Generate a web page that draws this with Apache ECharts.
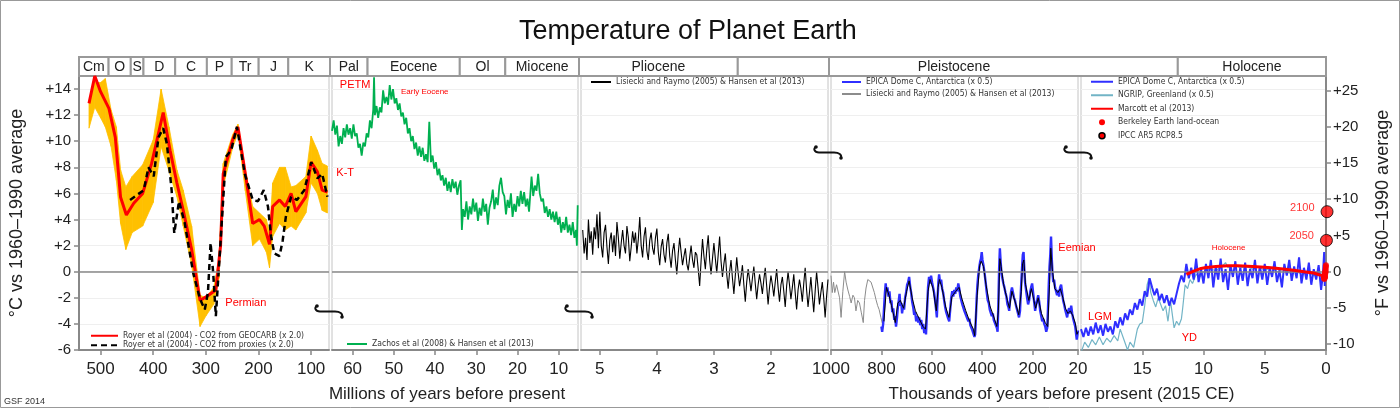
<!DOCTYPE html>
<html>
<head>
<meta charset="utf-8">
<script src="https://cdn.jsdelivr.net/npm/echarts@6/dist/echarts.min.js"></script>
<style>
html, body { margin: 0; padding: 0; background: #fff; }
#chart { width: 1400px; height: 408px; }
</style>
</head>
<body>
<div id="chart"></div>
<script>
// ---- data (age, °C anomaly) ----
// Royer et al (2004), Ma
var geocarb = [[522,12.9],[511,15.0],[500,13.8],[484,12.5],[472,10.3],[462,5.7],[451,4.35],[437,5.25],[420,6.0],[403,8.3],[381,12.2],[368,9.3],[355,6.8],[343,4.7],[327,1.7],[311,-2.2],[295,-1.8],[281,-1.4],[272,2.0],[267,7.5],[249,10.1],[239,11.1],[223,7.0],[211,3.7],[198,4.0],[189,3.5],[179,2.1],[173,5.0],[160,5.5],[149,5.0],[138,6.0],[129,4.6],[110,5.75],[100,8.4],[88,7.65],[79,6.25],[69,6.1]];
var proxies = [[444,5.5],[418,6.25],[409,8.0],[399,7.3],[390,10.3],[381,11.0],[374,9.8],[365,6.25],[360,2.95],[351,5.4],[340,3.7],[324,-0.1],[311,-2.1],[302,-2.9],[296,-1.6],[291,2.2],[286,-0.1],[281,-3.4],[275,0.4],[262,8.8],[252,9.3],[241,11.1],[226,7.5],[211,5.5],[201,5.4],[190,6.25],[182,5.0],[176,2.7],[170,1.4],[160,1.2],[154,2.4],[148,4.2],[138,5.75],[127,5.5],[113,6.25],[99.6,8.4],[88,7.15],[79,7.5],[69,5.75]];
var bandAge  = [522,511,500,491,480,470,462,452,440,420,400,385,370,355,343,327,311,300,285,275,267,249,239,225,211,198,185,179,173,160,149,138,129,110,100,88,79,69];
var bandLow  = [11.0,12.6,11.8,11.1,9.6,7.0,3.7,1.7,3.0,3.5,5.3,9.6,7.7,5.75,3.5,0.5,-4.2,-3.4,-2.5,-0.5,6.5,9.5,10.6,6.2,2.0,2.5,1.5,0.3,2.7,3.7,3.2,3.5,3.2,4.5,6.8,6.0,4.7,4.5];
var bandHigh = [12.9,14.5,14.5,14.8,12.4,11.1,7.8,6.5,7.3,8.2,10.1,14.0,11.1,7.8,6.25,3.5,-1.8,-2.0,-1.2,1.0,8.3,10.5,11.3,7.8,5.0,4.5,4.0,3.0,6.8,8.0,8.0,6.5,6.6,7.3,10.4,9.3,8.3,8.1];

// Zachos et al (2008), Ma
var zachos = [[65.0,10.8],[64.6,11.6],[64.2,10.5],[63.8,11.2],[63.4,9.6],[63.0,10.4],[62.6,9.8],[62.2,11.0],[61.8,10.3],[61.4,11.3],[61.0,10.5],[60.6,11.0],[60.2,10.2],[59.8,11.3],[59.4,10.4],[59.0,10.6],[58.6,9.5],[58.2,9.8],[57.8,8.9],[57.4,9.9],[57.0,9.6],[56.6,10.6],[56.2,10.3],[55.8,11.6],[55.4,11.0],[55.0,12.4],[54.8,14.9],[54.6,12.0],[54.2,12.7],[53.8,11.8],[53.4,12.6],[53.0,12.2],[52.6,13.9],[52.2,12.9],[51.8,13.4],[51.4,12.8],[51.0,14.3],[50.6,13.2],[50.2,14.0],[49.8,12.9],[49.4,13.3],[49.0,12.4],[48.6,12.9],[48.2,11.9],[47.8,12.2],[47.4,11.3],[47.0,11.8],[46.6,10.6],[46.2,11.0],[45.8,10.0],[45.4,10.4],[45.0,9.4],[44.6,9.9],[44.2,8.9],[43.8,9.6],[43.4,8.8],[43.0,9.5],[42.6,8.5],[42.2,9.0],[41.8,8.4],[41.4,11.5],[41.0,8.4],[40.6,8.9],[40.2,7.9],[39.8,8.4],[39.4,7.4],[39.0,7.9],[38.6,7.0],[38.2,7.4],[37.8,6.6],[37.4,7.2],[37.0,6.2],[36.6,6.9],[36.2,6.1],[35.8,7.1],[35.4,6.4],[35.0,6.9],[34.6,5.9],[34.2,6.6],[33.8,7.0],[33.5,3.2],[33.2,4.8],[32.8,4.2],[32.4,5.4],[32.0,4.0],[31.6,5.0],[31.2,4.4],[30.8,5.6],[30.4,4.6],[30.0,5.3],[29.6,3.9],[29.2,4.9],[28.8,4.3],[28.4,5.6],[28.0,4.6],[27.6,5.2],[27.2,3.6],[26.8,4.9],[26.4,5.4],[26.0,6.3],[25.6,4.8],[25.2,5.7],[24.8,5.1],[24.4,6.6],[24.0,7.2],[23.6,6.1],[23.2,5.8],[22.8,4.4],[22.4,5.5],[22.0,4.9],[21.6,6.0],[21.2,4.2],[20.8,5.2],[20.4,4.6],[20.0,5.8],[19.6,5.0],[19.2,6.2],[18.8,5.2],[18.4,6.1],[18.0,5.0],[17.6,5.6],[17.2,4.6],[16.8,6.4],[16.6,7.3],[16.2,5.8],[15.8,6.6],[15.4,6.2],[15.0,7.5],[14.6,6.0],[14.2,5.4],[13.8,5.6],[13.4,4.5],[13.0,5.0],[12.6,4.2],[12.2,4.8],[11.8,4.0],[11.4,4.6],[11.0,3.8],[10.6,4.6],[10.2,3.6],[9.8,4.2],[9.4,3.0],[9.0,3.8],[8.6,3.2],[8.2,4.2],[7.8,3.0],[7.4,3.6],[7.0,2.8],[6.6,3.8],[6.2,2.6],[5.8,3.2],[5.6,2.0],[5.4,5.1]];

// Lisiecki and Raymo (2005), Ma
var lisiecki = [[5.300,3.2],[5.275,1.4],[5.250,2.6],[5.225,0.9],[5.200,4.0],[5.175,2.2],[5.150,3.1],[5.125,1.3],[5.100,3.4],[5.075,2.5],[5.050,4.4],[5.025,1.8],[5.000,4.6],[4.975,2.0],[4.950,1.1],[4.925,3.0],[4.900,3.6],[4.875,1.9],[4.850,0.6],[4.825,2.4],[4.800,3.0],[4.775,1.5],[4.750,2.8],[4.725,1.2],[4.700,3.8],[4.675,2.6],[4.650,1.0],[4.625,2.2],[4.600,3.2],[4.575,2.0],[4.550,1.4],[4.525,3.5],[4.500,2.6],[4.475,0.8],[4.450,1.9],[4.425,3.1],[4.400,2.2],[4.375,3.0],[4.350,1.4],[4.325,2.5],[4.300,4.2],[4.275,2.0],[4.250,1.1],[4.225,2.7],[4.200,3.4],[4.175,1.6],[4.150,0.9],[4.125,2.4],[4.100,3.0],[4.075,1.8],[4.050,1.3],[4.025,2.6],[4.000,3.3],[3.975,1.5],[3.950,0.5],[3.925,1.9],[3.900,2.5],[3.875,1.3],[3.850,0.7],[3.825,2.2],[3.800,2.9],[3.775,1.2],[3.750,0.3],[3.725,1.6],[3.700,2.2],[3.675,0.9],[3.650,-0.2],[3.625,1.4],[3.600,2.6],[3.575,1.5],[3.550,0.5],[3.525,1.2],[3.500,1.8],[3.475,0.6],[3.450,0.1],[3.425,1.1],[3.400,2.0],[3.375,0.9],[3.350,0.3],[3.325,1.5],[3.300,1.3],[3.275,0.2],[3.250,-1.1],[3.225,0.8],[3.200,2.5],[3.175,1.2],[3.150,0.2],[3.125,1.7],[3.100,2.8],[3.075,0.9],[3.050,-0.2],[3.025,1.0],[3.000,2.2],[2.975,1.0],[2.950,-0.1],[2.925,1.3],[2.900,2.7],[2.875,0.8],[2.850,-0.4],[2.825,0.6],[2.800,1.4],[2.775,-0.2],[2.750,-1.3],[2.725,0.0],[2.700,0.9],[2.675,-0.5],[2.650,-1.7],[2.625,-0.3],[2.600,1.1],[2.575,-0.1],[2.550,-1.1],[2.525,-0.4],[2.500,0.5],[2.475,-1.0],[2.450,-2.3],[2.425,-0.8],[2.400,0.2],[2.375,-0.6],[2.350,-1.5],[2.325,-0.5],[2.300,0.4],[2.275,-0.9],[2.250,-2.1],[2.225,-1.0],[2.200,-0.2],[2.175,-0.9],[2.150,-1.7],[2.125,-0.6],[2.100,0.3],[2.075,-1.1],[2.050,-2.5],[2.025,-1.2],[2.000,-0.3],[1.975,-1.0],[1.950,-1.9],[1.925,-0.8],[1.900,0.2],[1.875,-1.2],[1.850,-2.3],[1.825,-1.0],[1.800,-0.4],[1.775,-1.5],[1.750,-2.7],[1.725,-1.1],[1.700,0.0],[1.675,-1.0],[1.650,-2.1],[1.625,-1.2],[1.600,-0.2],[1.575,-1.6],[1.550,-2.9],[1.525,-1.4],[1.500,-0.6],[1.475,-1.3],[1.450,-2.3],[1.425,-0.9],[1.400,0.3],[1.375,-1.4],[1.350,-2.7],[1.325,-1.6],[1.300,-0.4],[1.275,-1.8],[1.250,-3.1],[1.225,-1.5],[1.200,0.0],[1.175,-1.2],[1.150,-2.5],[1.125,-1.6],[1.100,-0.8],[1.075,-2.0],[1.050,-3.5],[1.025,-1.9],[1.000,-0.6]];

// ka before 2015
var lisieckiEarly = [[1000,-0.3],[995,-1.6],[990,-0.8],[985,-1.6],[978,-1.0],[973,-1.1],[966,-2.0],[960,-3.5],[953,-1.5],[946,0.0],[940,-0.8],[933,-1.4],[926,-1.9],[920,-2.4],[913,-1.8],[907,-2.0],[901,-3.0],[894,-2.2],[887,-2.4],[880,-3.1],[872,-3.9],[867,-2.2],[861,-1.25],[854,-0.6],[848,-0.5],[841,-0.8],[835,-0.9],[828,-1.6],[822,-2.1],[815,-2.6],[809,-2.9],[802,-3.5],[796,-4.0],[790,-3.8]];
var lisieckiLate = [[790,-3.8],[780,-1.2],[770,-1.8],[760,-2.6],[745,-3.9],[735,-2.4],[725,-2.2],[712,-2.8],[700,-1.5],[690,-0.7],[678,-2.0],[665,-3.0],[650,-3.6],[635,-4.2],[625,-4.4],[615,-1.5],[607,-0.6],[595,-1.3],[582,-3.0],[575,-1.2],[570,-0.6],[560,-1.2],[545,-2.7],[532,-3.5],[520,-1.9],[505,-1.5],[492,-1.2],[480,-2.1],[465,-3.0],[450,-3.8],[435,-4.4],[430,-4.9],[420,-1.8],[410,0.5],[404,0.8],[395,0.4],[385,-1.0],[370,-2.6],[355,-3.4],[342,-4.2],[336,-3.0],[330,1.0],[325,0.4],[315,-1.0],[300,-2.2],[292,-2.8],[282,-1.5],[268,-2.4],[255,-3.3],[245,-1.5],[240,0.6],[235,0.9],[228,-1.0],[215,-2.2],[205,-1.3],[195,-2.2],[188,-2.8],[178,-2.0],[165,-3.2],[150,-3.9],[140,-4.2],[133,-1.0],[128,1.8],[122,0.2],[112,-1.3],[100,-1.6],[90,-1.3],[80,-2.0],[70,-2.8],[60,-3.2],[50,-3.0],[40,-3.4],[30,-4.0],[24,-4.8],[20,-4.6]];
var epicaLong = [[800,-4.2],[797,-4.6],[793,-4.0],[789,-2.6],[786,-1.6],[783,-0.9],[780,-1.5],[776,-1.2],[772,-1.9],[768,-1.5],[764,-2.4],[760,-2.2],[757,-3.1],[753,-2.8],[749,-3.7],[746,-3.4],[742,-4.2],[738,-3.5],[735,-2.8],[731,-2.2],[728,-1.7],[725,-2.6],[721,-2.4],[718,-3.2],[714,-2.6],[710,-2.9],[706,-2.0],[702,-1.6],[698,-1.0],[694,-0.8],[690,-0.4],[686,-1.1],[682,-1.6],[678,-2.3],[674,-2.7],[670,-3.3],[666,-3.1],[662,-3.8],[658,-3.4],[654,-3.9],[650,-3.5],[646,-4.1],[642,-3.7],[638,-4.4],[634,-4.0],[630,-4.7],[626,-4.4],[623,-4.8],[619,-3.0],[615,-1.2],[611,-0.4],[607,-0.9],[603,-0.3],[599,-0.8],[595,-1.2],[591,-1.6],[587,-2.2],[583,-2.9],[580,-3.5],[577,-2.0],[574,-0.8],[571,-0.2],[567,-0.9],[563,-0.6],[559,-1.3],[555,-1.6],[551,-2.2],[547,-2.7],[543,-3.1],[539,-3.0],[535,-3.6],[531,-3.8],[527,-2.9],[523,-2.0],[519,-1.5],[515,-1.9],[511,-1.4],[507,-1.7],[503,-1.2],[499,-1.5],[495,-0.9],[491,-1.3],[487,-1.9],[483,-1.8],[479,-2.5],[475,-2.4],[471,-3.0],[467,-2.9],[463,-3.4],[459,-3.3],[455,-3.8],[451,-3.6],[447,-4.1],[443,-4.0],[439,-4.5],[435,-4.4],[431,-5.0],[428,-4.8],[425,-3.5],[422,-2.0],[419,-1.0],[416,-0.3],[412,0.3],[408,0.8],[405,1.0],[402,1.5],[399,0.9],[396,0.6],[393,0.2],[390,-0.2],[386,-0.9],[382,-1.6],[378,-2.2],[374,-2.4],[370,-2.9],[366,-2.8],[362,-3.4],[358,-3.2],[354,-3.7],[350,-3.6],[346,-4.1],[342,-4.3],[339,-4.6],[336,-2.5],[333,0.2],[330,1.8],[327,0.8],[324,0.0],[320,-0.5],[316,-0.9],[312,-1.2],[308,-1.6],[304,-1.9],[300,-2.5],[296,-2.7],[293,-3.0],[290,-2.3],[286,-1.6],[282,-1.2],[278,-1.6],[274,-2.0],[270,-2.2],[266,-2.6],[262,-2.9],[258,-3.2],[254,-3.5],[250,-3.0],[246,-1.2],[242,0.3],[239,1.3],[236,1.5],[233,0.2],[230,-0.8],[226,-1.4],[222,-2.0],[218,-2.5],[214,-2.2],[210,-1.6],[206,-1.2],[202,-0.9],[198,-1.6],[194,-2.3],[190,-3.0],[186,-2.5],[182,-2.2],[178,-1.8],[174,-2.3],[170,-3.0],[166,-3.4],[162,-3.8],[158,-3.6],[154,-4.0],[150,-4.2],[146,-4.6],[142,-4.3],[139,-2.8],[136,-1.0],[133,0.4],[130,1.3],[127,2.7],[124,1.0],[121,-0.2],[118,-0.8],[115,-0.6],[111,-1.2],[107,-1.5],[103,-1.8],[99,-1.4],[95,-1.9],[91,-1.2],[87,-1.0],[83,-1.6],[79,-2.2],[75,-2.5],[71,-2.9],[67,-3.2],[63,-3.5],[59,-3.0],[55,-2.8],[51,-3.2],[47,-2.6],[43,-3.2],[39,-3.6],[35,-3.9],[31,-4.2],[28,-4.7],[25,-5.2],[22,-4.8],[20,-4.5]];
var epicaShort = [[20.0,-4.4],[19.8,-5.0],[19.6,-4.3],[19.4,-4.9],[19.2,-4.2],[19.0,-4.8],[18.8,-3.9],[18.6,-4.7],[18.4,-4.1],[18.2,-4.9],[18.0,-4.0],[17.8,-4.6],[17.6,-4.2],[17.4,-4.8],[17.2,-3.8],[17.0,-4.3],[16.8,-3.5],[16.6,-4.1],[16.4,-3.2],[16.2,-3.7],[16.0,-2.9],[15.8,-3.3],[15.6,-2.4],[15.4,-2.9],[15.2,-2.1],[15.0,-2.6],[14.8,-1.5],[14.6,-1.9],[14.4,-0.5],[14.2,-1.2],[14.0,-1.8],[13.8,-1.3],[13.6,-2.2],[13.4,-1.7],[13.2,-2.4],[13.0,-1.8],[12.8,-2.6],[12.6,-2.0],[12.4,-2.5],[12.2,-1.7],[12.0,-0.9],[11.8,-0.3],[11.6,-0.8],[11.4,0.6],[11.2,-0.5],[11.0,0.3],[10.8,-0.6],[10.6,1.0],[10.4,-0.8],[10.2,0.2],[10.0,-0.9],[9.8,0.6],[9.6,-0.5],[9.4,0.9],[9.2,-1.2],[9.0,0.4],[8.8,-0.6],[8.6,1.0],[8.4,-0.8],[8.2,0.2],[8.0,-1.4],[7.8,0.5],[7.6,-0.4],[7.4,0.8],[7.2,-1.0],[7.0,0.3],[6.8,-0.7],[6.6,0.7],[6.4,-1.1],[6.2,0.2],[6.0,-0.5],[5.8,0.9],[5.6,-0.9],[5.4,0.4],[5.2,-0.6],[5.0,0.6],[4.8,-1.0],[4.6,0.3],[4.4,-0.4],[4.2,0.8],[4.0,-0.8],[3.8,0.1],[3.6,-1.2],[3.4,0.6],[3.2,-0.3],[3.0,0.9],[2.8,-0.7],[2.6,0.4],[2.4,-0.5],[2.2,1.1],[2.0,-0.9],[1.8,0.3],[1.6,-0.6],[1.4,0.7],[1.2,-1.0],[1.0,0.2],[0.8,-0.6],[0.6,0.5],[0.4,-1.4],[0.25,-0.2],[0.15,1.5],[0.1,-1.1]];
var ngrip = [[20.0,-6.2],[19.7,-5.4],[19.4,-5.8],[19.1,-5.2],[18.8,-5.6],[18.5,-5.0],[18.2,-5.6],[17.9,-5.1],[17.6,-5.4],[17.3,-4.9],[17.0,-5.3],[16.8,-4.4],[16.5,-5.2],[16.2,-6.0],[16.0,-5.4],[15.7,-5.8],[15.4,-4.4],[15.2,-4.0],[15.0,-3.9],[14.8,-2.6],[14.6,-1.0],[14.45,-0.5],[14.3,-1.6],[14.1,-2.2],[13.9,-2.7],[13.7,-2.0],[13.5,-2.5],[13.3,-3.0],[13.1,-2.6],[12.9,-3.8],[12.7,-2.2],[12.5,-3.6],[12.4,-4.3],[12.2,-3.8],[12.0,-4.1],[11.8,-3.6],[11.7,-2.8],[11.5,-1.0],[11.3,-1.3],[11.1,-0.6],[10.9,-0.9],[10.6,-0.2],[10.3,-0.4],[10.0,0.0],[9.5,0.2],[9.0,0.1],[8.5,0.4],[8.2,0.7],[8.0,0.3],[7.5,0.5],[7.0,0.3],[6.5,0.4],[6.0,0.2],[5.5,0.4],[5.0,0.1],[4.5,0.3],[4.0,0.0],[3.5,0.2],[3.0,-0.1],[2.5,0.1],[2.0,-0.2],[1.5,0.0],[1.0,-0.3],[0.5,-0.1],[0.1,-0.4]];
var marcott = [[11.4,-0.2],[10.8,0.05],[10.2,0.25],[9.9,0.3],[9.0,0.4],[8.0,0.45],[7.2,0.45],[6.0,0.4],[5.0,0.35],[4.5,0.3],[3.5,0.2],[2.5,0.1],[1.8,0.0],[1.0,-0.1],[0.5,-0.25],[0.2,-0.3]];
var berkeley = [[0.165,-0.35],[0.155,-0.5],[0.145,-0.4],[0.135,-0.55],[0.125,-0.45],[0.115,-0.35],[0.105,-0.45],[0.095,-0.3],[0.085,-0.4],[0.075,-0.15],[0.065,-0.05],[0.055,-0.1],[0.045,0.0],[0.035,0.1],[0.025,0.25],[0.015,0.4],[0.005,0.5]];
var ipcc = [[-0.035,2.4],[-0.085,4.6]];
var ipccYears = ['2050', '2100'];

// geologic periods: name, start, end
var erasPaleo = [['Cm',541,485],['O',485,443],['S',443,419],['D',419,359],['C',359,299],['P',299,252],['Tr',252,201],['J',201,145],['K',145,66]];
var erasCeno = [['Pal',65,56],['Eocene',56,33.9],['Ol',33.9,23],['Miocene',23,5.33]];
var erasNeo = [['Pliocene',5.33,2.58],['',2.58,1.0]];
var erasPleist = [['Pleistocene',1000,20]];
var erasRecent = [['',20,12],['Holocene',12,0]];

// axis ranges and ticks
var xRanges = [[66,541],[5.33,65],[1,5.33],[20,1000],[0,20]];
var xTicks = [[500,400,300,200,100],[60,50,40,30,20,10],[5,4,3,2],[1000,800,600,400,200,20],[15,10,5,0]];
var cTicks = [-6,-4,-2,0,2,4,6,8,10,12,14];
var fTicks = [-10,-5,0,5,10,15,20,25];

var FONT = 'Liberation Sans, Arial, sans-serif';
var NARROW = 'DejaVu Sans Condensed, Liberation Sans, sans-serif';

var mainGrids = [[79,250],[332,246],[581,247],[831,247],[1081,245]];
var eraGrids = [[79,251],[330,249],[579,250],[829,250],[1079,247]];

function signed(v) { return v > 0 ? '+' + v : String(v); }

function eraRender(list, openStart, openEnd) {
  return function (params, api) {
    var a = api.coord([api.value(0), 0]);
    var b = api.coord([api.value(1), 1]);
    var x0 = Math.min(a[0], b[0]), x1 = Math.max(a[0], b[0]);
    var y0 = Math.min(a[1], b[1]), y1 = Math.max(a[1], b[1]);
    var ln = { stroke: '#999', lineWidth: 2 };
    var i = params.dataIndex;
    var ch = [
      { type: 'rect', shape: { x: x0, y: y0, width: x1 - x0, height: y1 - y0 }, style: { fill: '#fff' } },
      { type: 'line', shape: { x1: x0 - 1, y1: y0, x2: x1 + 1, y2: y0 }, style: ln },
      { type: 'line', shape: { x1: x0 - 1, y1: y1, x2: x1 + 1, y2: y1 }, style: ln }
    ];
    if (!(openStart && i === 0)) ch.push({ type: 'line', shape: { x1: x0, y1: y0, x2: x0, y2: y1 }, style: ln });
    if (!(openEnd && i === list.length - 1)) ch.push({ type: 'line', shape: { x1: x1, y1: y0, x2: x1, y2: y1 }, style: ln });
    ch.push({ type: 'text', style: { text: list[i][0], x: (x0 + x1) / 2, y: (y0 + y1) / 2 + 1, align: 'center', verticalAlign: 'middle', fontSize: 14, fontFamily: FONT, fill: '#222' } });
    return { type: 'group', children: ch };
  };
}

function eraSeries(list, i, openStart, openEnd) {
  return {
    type: 'custom', xAxisIndex: 5 + i, yAxisIndex: 6 + i, silent: true, clip: false,
    encode: { x: [0, 1], y: 2 },
    renderItem: eraRender(list, openStart, openEnd),
    data: list.map(function (e) { return [e[1], e[2], 0.5]; })
  };
}

// uncertainty band: one quad between each pair of neighbouring ages
function bandRender(params, api) {
  var k = params.dataIndex;
  if (k >= bandAge.length - 1) return null;
  var pts = [
    api.coord([bandAge[k], bandLow[k]]),
    api.coord([bandAge[k + 1], bandLow[k + 1]]),
    api.coord([bandAge[k + 1], bandHigh[k + 1]]),
    api.coord([bandAge[k], bandHigh[k]])
  ];
  return { type: 'polygon', shape: { points: pts }, style: { fill: '#FFC000', stroke: '#FFC000', lineWidth: 0.8 } };
}

function lineSeries(name, data, i, color, width, extra) {
  return Object.assign({
    type: 'line', name: name, data: data, xAxisIndex: i, yAxisIndex: i,
    symbol: 'none', lineStyle: { color: color, width: width }, itemStyle: { color: color }, z: 3
  }, extra || {});
}

var zeroLine = { silent: true, symbol: 'none', label: { show: false }, lineStyle: { color: '#888', width: 1.5, type: 'solid' }, data: [{ yAxis: 0 }] };

function notes(list) {
  return {
    silent: true, symbol: 'circle', symbolSize: 1, itemStyle: { color: 'rgba(0,0,0,0)' },
    label: { show: true, position: 'inside', color: '#f00', fontFamily: FONT },
    data: list.map(function (n) { return { coord: [n[1], n[2]], label: { formatter: n[0], fontSize: n[3] } }; })
  };
}

var grids = mainGrids.map(function (g) {
  return { left: g[0], width: g[1], top: 76, height: 274, show: true, borderColor: '#c4c4c4', borderWidth: 1 };
}).concat(eraGrids.map(function (g) {
  return { left: g[0], width: g[1], top: 57, height: 19 };
}));

var xAxes = xRanges.map(function (r, i) {
  var ax = {
    type: 'value', gridIndex: i, min: r[0], max: r[1], inverse: true,
    axisLine: { show: true, onZero: false, lineStyle: { color: '#888', width: 2 } },
    axisTick: { show: true, customValues: xTicks[i], length: 5, lineStyle: { color: '#888', width: 1.5 } },
    axisLabel: { customValues: xTicks[i], formatter: function (v) { return String(v); }, fontSize: 17, color: '#222', margin: 11, fontFamily: FONT },
    splitLine: { show: false }
  };
  if (i === 1) {
    ax.name = 'Millions of years before present';
    ax.nameLocation = 'middle'; ax.nameGap = 36;
    ax.nameTextStyle = { fontSize: 17, color: '#222', fontFamily: FONT, padding: [0, 16, 0, 0] };
  }
  if (i === 3) {
    ax.name = 'Thousands of years before present (2015 CE)';
    ax.nameLocation = 'middle'; ax.nameGap = 36;
    ax.nameTextStyle = { fontSize: 17, color: '#222', fontFamily: FONT, padding: [0, 0, 0, 214] };
  }
  return ax;
}).concat(xRanges.map(function (r, i) {
  return { type: 'value', gridIndex: 5 + i, min: r[0], max: r[1], inverse: true, show: false };
}));

var yAxes = xRanges.map(function (r, i) {
  var first = i === 0;
  var ax = {
    type: 'value', gridIndex: i, min: -6, max: 15, interval: 2,
    axisLine: { show: first, lineStyle: { color: '#888', width: 2 } },
    axisTick: { show: first, customValues: cTicks, length: 5, lineStyle: { color: '#888', width: 1.5 } },
    axisLabel: { show: first, customValues: cTicks, formatter: signed, fontSize: 15, color: '#222', margin: 8, fontFamily: FONT },
    splitLine: { show: true, lineStyle: { color: '#efefef', width: 1 } }
  };
  if (first) {
    ax.name = '°C vs 1960–1990 average';
    ax.nameLocation = 'middle'; ax.nameGap = 53; ax.nameRotate = 90;
    ax.nameTextStyle = { fontSize: 18, color: '#222', fontFamily: FONT };
  }
  return ax;
});
yAxes.push({
  type: 'value', gridIndex: 4, position: 'right', min: -10.8, max: 27,
  axisLine: { show: true, lineStyle: { color: '#888', width: 2 } },
  axisTick: { show: true, customValues: fTicks, length: 5, lineStyle: { color: '#888', width: 1.5 } },
  axisLabel: { customValues: fTicks, formatter: signed, fontSize: 15, color: '#222', margin: 7, fontFamily: FONT },
  splitLine: { show: false },
  name: '°F vs 1960–1990 average', nameLocation: 'middle', nameGap: 48, nameRotate: 90,
  nameTextStyle: { fontSize: 18, color: '#222', fontFamily: FONT }
});
xRanges.forEach(function (r, i) {
  yAxes.push({ type: 'value', gridIndex: 5 + i, min: 0, max: 1, show: false });
});

function legendBox(left, top, width, height, lineH, names) {
  return {
    left: left, top: top, orient: 'vertical', itemWidth: width, itemHeight: height, itemGap: 0,
    selectedMode: false, padding: 0,
    itemStyle: { opacity: 0 },
    formatter: function (n) { return n.split('#')[0]; },
    textStyle: { fontSize: 8.5, color: '#333', fontFamily: NARROW, lineHeight: lineH },
    data: names
  };
}

var series = [
  // Paleozoic / Mesozoic
  {
    type: 'custom', name: 'uncertainty', xAxisIndex: 0, yAxisIndex: 0, silent: true, clip: true, z: 2,
    encode: { x: 0, y: [1, 2] },
    renderItem: bandRender,
    data: bandAge.map(function (a, k) { return [a, bandLow[k], bandHigh[k]]; })
  },
  lineSeries('Royer et al (2004) - CO2 from GEOCARB (x 2.0)', geocarb, 0, '#ff0000', 3, {
    markLine: zeroLine,
    markPoint: notes([['Permian', 224, -2.4, 11]])
  }),
  lineSeries('Royer et al (2004) - CO2 from proxies (x 2.0)', proxies, 0, '#000', 2.5, { lineStyle: { color: '#000', width: 2.5, type: [6, 4] } }),
  // Cenozoic
  lineSeries('Zachos et al (2008) & Hansen et al (2013)', zachos, 1, '#00B050', 1.8, {
    markLine: zeroLine,
    markPoint: notes([['PETM', 59.4, 14.35, 11], ['Early Eocene', 42.5, 13.8, 8], ['K-T', 61.8, 7.55, 11]])
  }),
  // Pliocene
  lineSeries('Lisiecki and Raymo (2005) & Hansen et al (2013)#3', lisiecki, 2, '#000', 1.1, { markLine: zeroLine }),
  // Pleistocene
  lineSeries('Lisiecki and Raymo (2005) & Hansen et al (2013)#4', lisieckiEarly, 3, '#8c8c8c', 1, { markLine: zeroLine }),
  lineSeries('EPICA Dome C, Antarctica (x 0.5)#4', epicaLong, 3, '#2f2fff', 2.4, {
    markPoint: notes([['Eemian', 24, 1.8, 11]])
  }),
  lineSeries('Lisiecki late#4', lisieckiLate, 3, '#000', 1, { z: 4 }),
  // last 20 ka
  lineSeries('NGRIP, Greenland (x 0.5)', ngrip, 4, '#72b4c6', 1.2, {
    markLine: zeroLine,
    markPoint: notes([['LGM', 18.45, -3.45, 11], ['YD', 11.15, -5.1, 11], ['Holocene', 7.95, 1.85, 8]])
  }),
  lineSeries('EPICA Dome C, Antarctica (x 0.5)#5', epicaShort, 4, '#2f2fff', 2),
  lineSeries('Marcott et al (2013)', marcott, 4, '#ff0000', 3, { z: 5 }),
  {
    type: 'scatter', name: 'Berkeley Earth land-ocean', data: berkeley, xAxisIndex: 4, yAxisIndex: 4,
    symbolSize: 6, itemStyle: { color: '#ff0000' }, clip: false, z: 6, silent: true
  },
  {
    type: 'scatter', name: 'IPCC AR5 RCP8.5', data: ipcc, xAxisIndex: 4, yAxisIndex: 4,
    symbolSize: 12, itemStyle: { color: '#ff0000', borderColor: '#000', borderWidth: 1 }, clip: false, z: 7, silent: true,
    label: {
      show: true, position: 'left', distance: 6, offset: [0, -4], color: '#f00', fontSize: 11, fontFamily: FONT,
      formatter: function (p) { return ipccYears[p.dataIndex]; }
    }
  },
  eraSeries(erasPaleo, 0, false, false),
  eraSeries(erasCeno, 1, false, false),
  eraSeries(erasNeo, 2, false, false),
  eraSeries(erasPleist, 3, false, true),
  eraSeries(erasRecent, 4, true, false)
];

var breaks = [[330, 311], [580, 311], [829, 152], [1079, 152]];
var brk = { fill: 'none', stroke: '#111', lineWidth: 2 };

var option = {
  backgroundColor: '#fff',
  animation: false,
  title: {
    text: 'Temperature of Planet Earth', left: 514, top: 13,
    textStyle: { fontSize: 27, fontWeight: 'normal', color: '#111', fontFamily: FONT }
  },
  legend: [
    legendBox(90, 331, 27, 9, 9.5, ['Royer et al (2004) - CO2 from GEOCARB (x 2.0)', 'Royer et al (2004) - CO2 from proxies (x 2.0)']),
    legendBox(346, 338, 20, 9, 12, ['Zachos et al (2008) & Hansen et al (2013)']),
    legendBox(590, 76, 20, 9, 12, ['Lisiecki and Raymo (2005) & Hansen et al (2013)#3']),
    legendBox(841, 76, 19, 9, 12, ['EPICA Dome C, Antarctica (x 0.5)#4', 'Lisiecki and Raymo (2005) & Hansen et al (2013)#4']),
    legendBox(1090, 75, 22, 6, 13.5, [
      'EPICA Dome C, Antarctica (x 0.5)#5', 'NGRIP, Greenland (x 0.5)', 'Marcott et al (2013)',
      { name: 'Berkeley Earth land-ocean', icon: 'circle', itemStyle: { opacity: 1, color: '#ff0000' } },
      { name: 'IPCC AR5 RCP8.5', icon: 'circle', itemStyle: { opacity: 1, color: '#ff0000', borderColor: '#000', borderWidth: 1.5 } }
    ])
  ],
  grid: grids,
  xAxis: xAxes,
  yAxis: yAxes,
  series: series,
  graphic: [
    { type: 'rect', silent: true, z: -10, shape: { x: 0.5, y: 0.5, width: 1399, height: 407 }, style: { fill: 'none', stroke: '#999', lineWidth: 1 } },
    { type: 'text', x: 4, y: 397, style: { text: 'GSF 2014', fontSize: 9, fill: '#333', fontFamily: FONT } }
  ].concat(breaks.map(function (p) {
    return {
      type: 'group', x: p[0], y: p[1], z: 100, silent: true,
      children: [
        { type: 'bezierCurve', shape: { x1: -13, y1: -5, cpx1: -16, cpy1: -4, cpx2: -15, cpy2: 0.5, x2: -10, y2: 0.5 }, style: brk },
        { type: 'line', shape: { x1: -10, y1: 0.5, x2: 5, y2: 0.5 }, style: brk },
        { type: 'bezierCurve', shape: { x1: 5, y1: 0.5, cpx1: 10, cpy1: 0.5, cpx2: 13, cpy2: 2.5, x2: 12, y2: 6 }, style: brk },
        { type: 'circle', shape: { cx: -13, cy: -5, r: 1.8 }, style: { fill: '#111' } },
        { type: 'circle', shape: { cx: 12, cy: 6, r: 1.8 }, style: { fill: '#111' } }
      ]
    };
  }))
};

var chart = echarts.init(document.getElementById('chart'));
chart.setOption(option);
</script>
</body>
</html>
